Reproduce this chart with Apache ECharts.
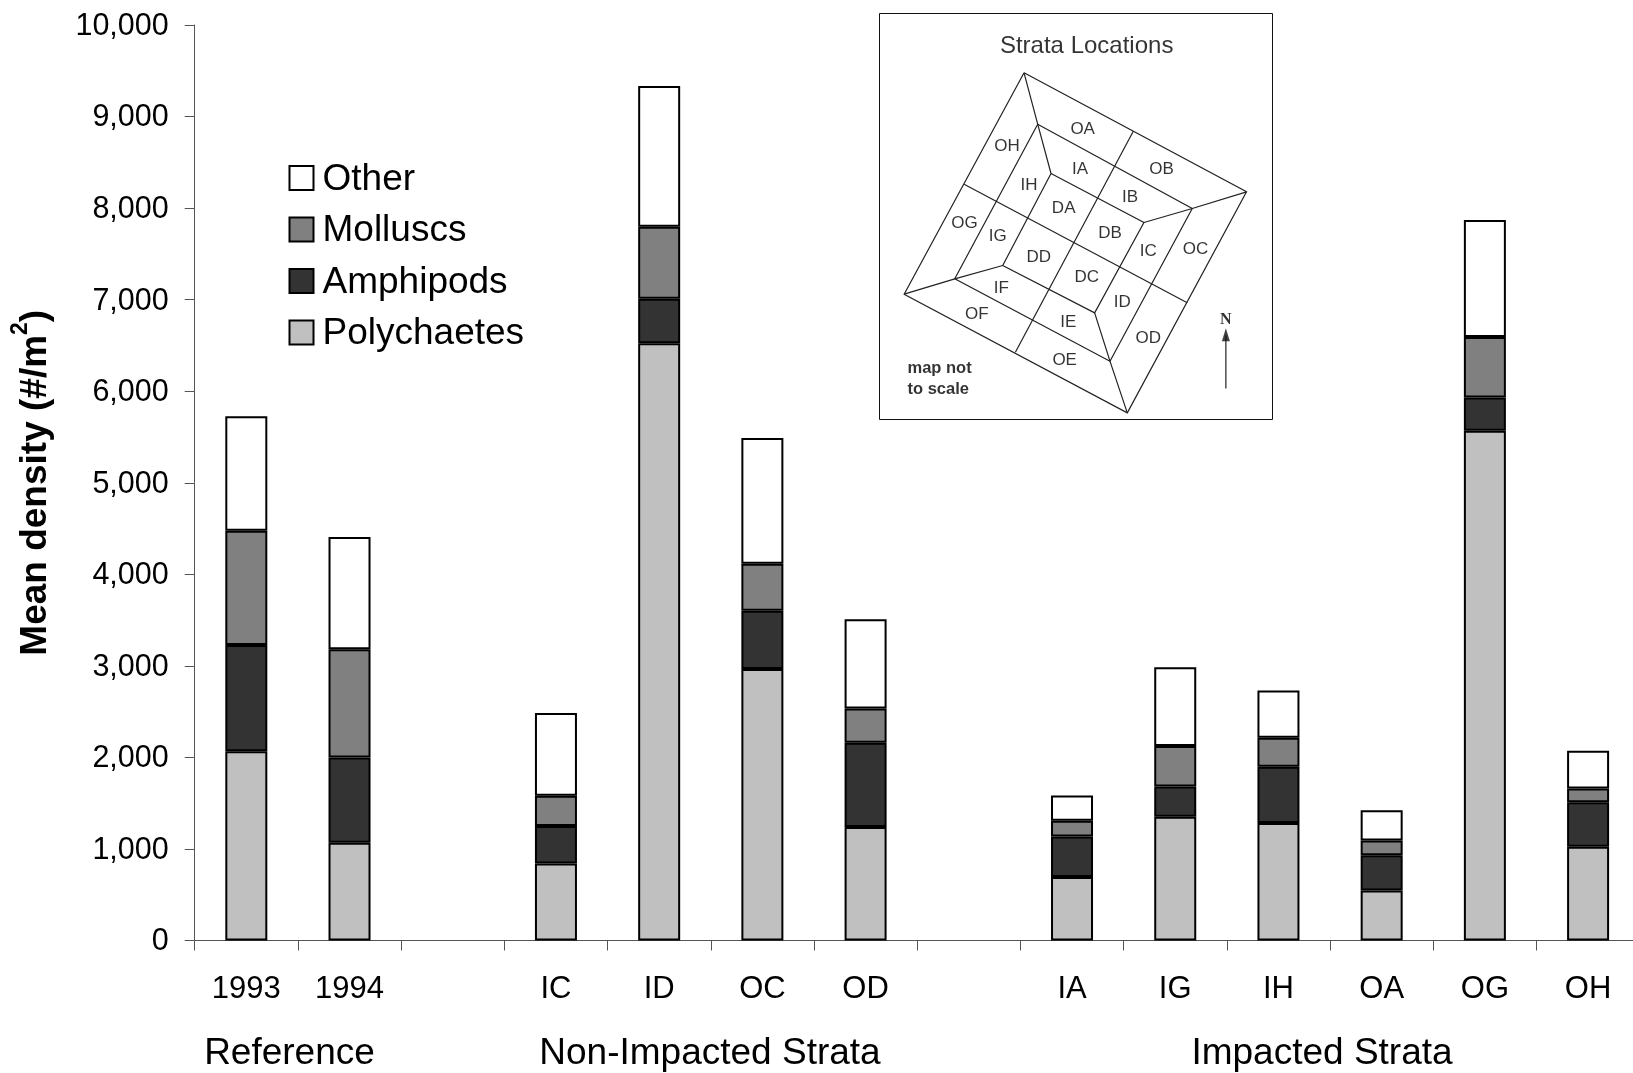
<!DOCTYPE html>
<html><head><meta charset="utf-8">
<style>html,body{margin:0;padding:0;background:#fff;overflow:hidden}#c{width:1633px;height:1073px}</style>
<script src="https://cdn.jsdelivr.net/npm/echarts@6/dist/echarts.min.js"></script>
</head><body><div id="c"></div>
<script>
const categories=['1993','1994','','IC','ID','OC','OD','','IA','IG','IH','OA','OG','OH'];
const yTicks=[0,1000,2000,3000,4000,5000,6000,7000,8000,9000,10000];
const polychaetes=[2068,1068,null,841,6523,2966,1239,null,693,1352,1284,545,5568,1023];
const amphipods=[1159,932,null,409,488,636,920,null,443,330,614,387,364,488];
const molluscs=[1250,1182,null,330,784,512,375,null,171,443,318,159,659,148];
const other=[1250,1225,null,905,1540,1375,975,null,278,860,515,332,1280,415];
const groupLabels=['Reference','Non-Impacted Strata','Impacted Strata'];
const mapLines=[
 [[492,218],[1160,575],[802,1238],[132,882],[492,218]],
 [[533,372],[997,625],[750,1083],[284,836],[533,372]],
 [[573,520],[852,667],[704,938],[428,796],[573,520]],
 [[492,218],[533,372],[573,520]],
 [[1160,575],[997,625],[852,667]],
 [[802,1238],[750,1083],[704,938]],
 [[132,882],[284,836],[428,796]],
 [[820,393],[466,1056]],
 [[312,552],[982,908]],
 [[1098,1165],[1098,1005]]
];
const mapLabels=[['OA',668,386],['OH',441,437],['OB',905,507],['IA',660,507],['IH',507,555],['IB',810,592],['DA',611,624],['OG',313,669],['IG',413,707],['DB',750,699],['IC',865,752],['OC',1007,748],['DD',536,772],['DC',680,832],['IF',424,864],['OF',350,942],['ID',787,907],['IE',625,967],['OD',865,1014],['OE',614,1079]];
const mapNotes=[['map not',142,1106],['to scale',142,1168]];
const FONT='"Liberation Sans",Arial,sans-serif';
function stackBar(name,data,color){return {name,type:'bar',stack:'d',data,barWidth:42,xAxisIndex:0,yAxisIndex:0,
 itemStyle:{color,borderColor:'#000',borderWidth:2}};}
function textSeries(name,data,style){return {name,type:'scatter',xAxisIndex:1,yAxisIndex:1,symbolSize:0,silent:true,z:6,
 data:data.map(d=>({value:[d[1],d[2]],name:d[0]})),
 label:Object.assign({show:true,position:'inside',formatter:p=>p.name,fontFamily:FONT,color:'#000'},style)};}
const chart=echarts.init(document.getElementById('c'),null,{renderer:'canvas'});
chart.setOption({
 animation:false,backgroundColor:'#fff',
 textStyle:{fontFamily:FONT,color:'#000'},
 grid:[
  {left:194.7,top:25,width:1445,height:915.5,containLabel:false,outerBoundsMode:'none'},
  {left:879.5,top:13.5,width:393,height:406,show:true,backgroundColor:'#fff',borderColor:'#111',borderWidth:1,z:5,outerBoundsMode:'none'}
 ],
 legend:{orient:'vertical',left:288.5,top:158,padding:0,data:['Other','Molluscs','Amphipods','Polychaetes'],icon:'rect',itemWidth:24,itemHeight:24,itemGap:11.5,
  selectedMode:false,formatter:n=>'{t|'+n+'}',
  textStyle:{fontFamily:FONT,fontSize:37,color:'#000',padding:[0,0,0,4],rich:{t:{fontFamily:FONT,fontSize:37,color:'#000',lineHeight:42,padding:[3,0,0,0]}}}},
 xAxis:[
  {type:'category',gridIndex:0,data:categories,axisLine:{lineStyle:{color:'#555',width:1}},axisTick:{show:true,length:10,alignWithLabel:false,lineStyle:{color:'#555',width:1}},
   axisLabel:{interval:0,margin:33,fontSize:31,color:'#000',fontFamily:FONT},splitLine:{show:false}},
  {type:'value',gridIndex:1,min:58,max:1238,show:false}
 ],
 yAxis:[
  {type:'value',gridIndex:0,min:0,max:10000,interval:1000,
   axisLine:{show:true,lineStyle:{color:'#555',width:1}},axisTick:{show:true,length:10,lineStyle:{color:'#555',width:1}},
   axisLabel:{margin:26,color:'#000',fontFamily:FONT,fontSize:30.5,formatter:v=>'{t|'+String(v).replace(/\B(?=(\d{3})+$)/g,',')+'}',
    rich:{t:{fontFamily:FONT,fontSize:30.5,color:'#000',padding:[3,0,0,0]}}},
   splitLine:{show:false},
   name:'{a|Mean density (#/m}{s|2}{a|)}',nameLocation:'middle',nameGap:140,nameMoveOverlap:false,
   nameTextStyle:{rich:{a:{fontSize:37,fontWeight:'bold',fontFamily:FONT,color:'#000',lineHeight:46,verticalAlign:'bottom'},s:{fontSize:23,fontWeight:'bold',fontFamily:FONT,color:'#000',verticalAlign:'top',lineHeight:23}}}},
  {type:'value',gridIndex:1,min:40,max:1258,inverse:true,show:false}
 ],
 series:[
  stackBar('Polychaetes',polychaetes,'#c0c0c0'),
  stackBar('Amphipods',amphipods,'#333333'),
  stackBar('Molluscs',molluscs,'#808080'),
  stackBar('Other',other,'#ffffff'),
  {name:'map',type:'lines',coordinateSystem:'cartesian2d',xAxisIndex:1,yAxisIndex:1,polyline:true,silent:true,z:5,
   lineStyle:{color:'#222',width:1.2,opacity:1},data:mapLines.map(c=>({coords:c}))},
  {name:'arrow',type:'scatter',xAxisIndex:1,yAxisIndex:1,silent:true,z:6,symbol:'triangle',symbolSize:[8,13],itemStyle:{color:'#111'},data:[[1098,1004]]},
  textSeries('mapLabels',mapLabels,{fontSize:17,align:'center',verticalAlign:'middle'}),
  textSeries('mapNotes',mapNotes,{fontSize:16.5,fontWeight:'bold',align:'left',verticalAlign:'middle',color:'#000'}),
  textSeries('mapTitle',[['Strata Locations',680,139]],{fontSize:24,align:'center',verticalAlign:'middle'}),
  textSeries('north',[['N',1098,958]],{fontSize:16,fontFamily:'"Liberation Serif",serif',fontWeight:'bold',align:'center',verticalAlign:'middle'})
 ],
 graphic:groupLabels.map((t,i)=>({type:'text',x:[289.5,710,1322][i],y:1054,
  style:{text:t,font:'37px '+FONT,fill:'#000',textAlign:'center',textVerticalAlign:'middle'}}))
});
</script></body></html>
